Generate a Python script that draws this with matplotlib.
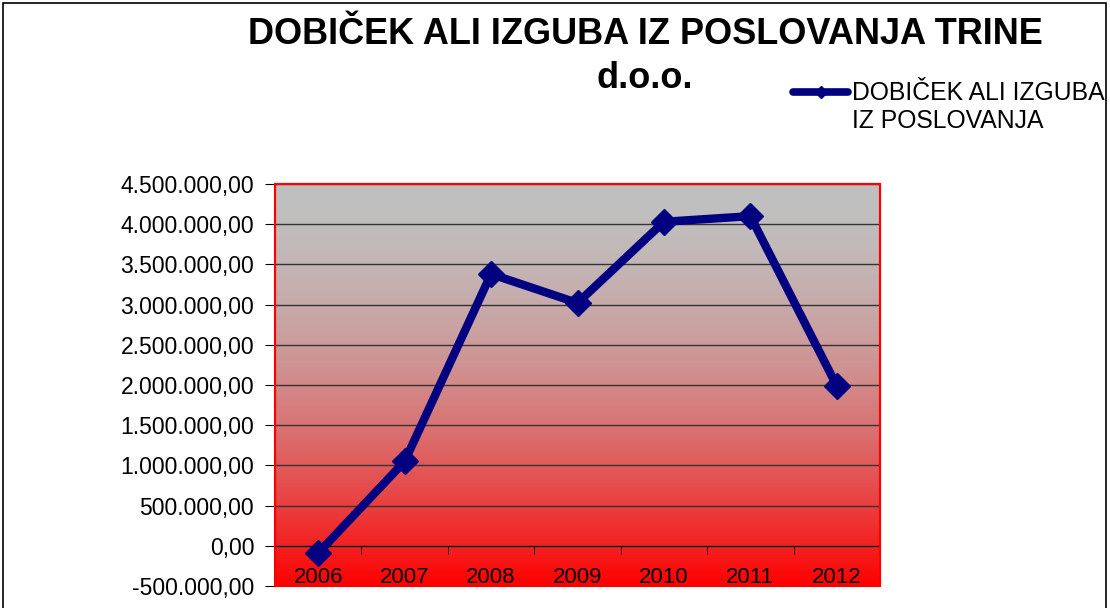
import matplotlib
matplotlib.use("Agg")
import matplotlib.pyplot as plt
import matplotlib.ticker as mticker
from matplotlib.patches import Rectangle
from matplotlib.lines import Line2D
import numpy as np

plt.rcParams["font.family"] = ["Liberation Sans", "DejaVu Sans"]

years = ["2006", "2007", "2008", "2009", "2010", "2011", "2012"]
profit = [-90000, 1050000, 3380000, 3020000, 4030000, 4100000, 1990000]
series_name = "DOBIČEK ALI IZGUBA\nIZ POSLOVANJA"
title_lines = ["DOBIČEK ALI IZGUBA IZ POSLOVANJA TRINE", "d.o.o."]

navy = "#000080"

fig = plt.figure(figsize=(11.1, 6.08), dpi=100)
ax = fig.add_axes([275 / 1110, 22 / 608, 605 / 1110, 402 / 608])

# gradient background grey -> red (stays grey longer at the top)
top = np.array([192, 192, 192]) / 255
bot = np.array([255, 0, 0]) / 255
t = np.linspace(0, 1, 256)[:, None] ** 1.8
grad = (top * (1 - t) + bot * t)[:, None, :]
ax.imshow(grad, extent=[0, 1, 0, 1], transform=ax.transAxes,
          aspect="auto", zorder=0, interpolation="bilinear")

x = np.arange(len(years))
ax.plot(x, profit, color=navy, lw=6, marker="D", ms=13,
        solid_joinstyle="miter", zorder=4)

ax.set_xlim(-0.5, len(years) - 0.5)
ax.set_ylim(-500000, 4500000)
ax.yaxis.set_major_locator(mticker.MultipleLocator(500000))
ax.yaxis.set_major_formatter(mticker.FuncFormatter(
    lambda v, p: f"{v:,.2f}".replace(",", " ").replace(".", ",").replace(" ", ".")))
ax.grid(axis="y", color="#333333", lw=1, zorder=1)
ax.set_axisbelow(True)

# x axis sits on zero, ticks between categories
ax.spines["bottom"].set_position(("data", 0))
ax.spines["bottom"].set_color("black")
ax.spines["bottom"].set_zorder(2)
ax.set_xticks(x)
ax.set_xticklabels(years, fontsize=16)
ax.set_xticks(np.arange(-0.5, len(years)), minor=True)
ax.tick_params(axis="x", which="major", length=0, pad=15)
ax.tick_params(axis="x", which="minor", length=6, direction="out", color="black")

ax.spines["left"].set_color("black")
for s in ["top", "right"]:
    ax.spines[s].set_color("red")
    ax.spines[s].set_linewidth(1.5)
ax.add_patch(Rectangle((0, 0), 1, 1, transform=ax.transAxes, fill=False,
                       edgecolor="red", lw=1.5, zorder=5, clip_on=False))
ax.tick_params(axis="y", labelsize=16.5, length=7, color="black", pad=8)

# title in two separate texts so the second line doesn't cover the legend
fig.text(645 / 1110, 1 - 35 / 608, title_lines[0], ha="center", va="center",
         fontsize=26, fontweight="bold")
fig.text(645 / 1110, 1 - 78 / 608, title_lines[1], ha="center", va="center",
         fontsize=26, fontweight="bold")

# legend drawn by hand so the key sits on the first text line
fig.add_artist(Line2D([793 / 1110, 848 / 1110], [1 - 92 / 608, 1 - 92 / 608],
                      transform=fig.transFigure, color=navy, lw=5.5,
                      solid_capstyle="round"))
fig.add_artist(Line2D([820.5 / 1110], [1 - 92 / 608], transform=fig.transFigure,
                      color=navy, marker="D", ms=6, lw=0))
fig.text(852 / 1110, 1 - 81 / 608, series_name, ha="left", va="top",
         fontsize=17.8, linespacing=1.2)

fig.add_artist(Rectangle((3 / 1110, -0.05), 1103 / 1110, 1.05 - 3 / 608,
                         transform=fig.transFigure, fill=False,
                         edgecolor="black", lw=1.2))

fig.savefig("out.png", dpi=100)
